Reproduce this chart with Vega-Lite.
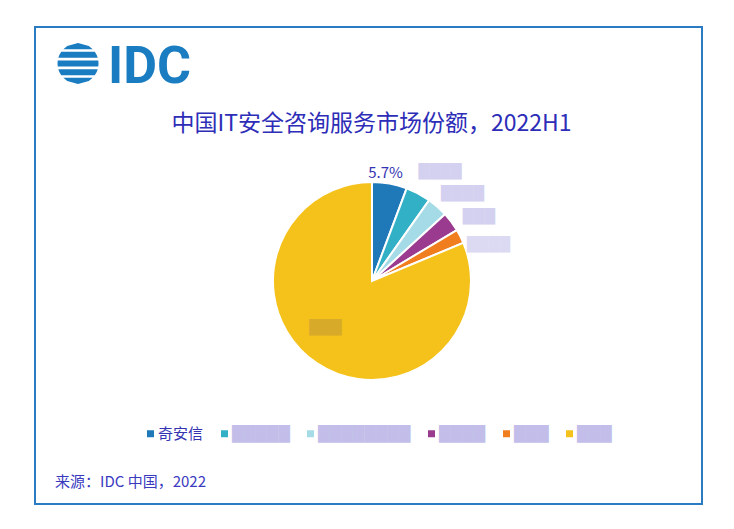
{
  "$schema": "https://vega.github.io/schema/vega-lite/v6.json",
  "width": 667,
  "height": 477,
  "autosize": {"type": "none"},
  "padding": {"left": 35, "top": 27, "right": 32, "bottom": 25},
  "background": "#ffffff",
  "config": {
    "view": {"stroke": "#2b7bc3", "strokeWidth": 2},
    "font": "Noto Sans CJK SC"
  },
  "data": {
    "values": [
      {"company": "奇安信", "share": 0.057, "rank": 1},
      {"company": "厂商二", "share": 0.041, "rank": 2},
      {"company": "厂商三", "share": 0.034, "rank": 3},
      {"company": "厂商四", "share": 0.032, "rank": 4},
      {"company": "厂商五", "share": 0.023, "rank": 5},
      {"company": "其他", "share": 0.813, "rank": 6}
    ]
  },
  "layer": [
    {
      "mark": {"type": "arc", "radius": 99, "stroke": "#ffffff", "strokeWidth": 2},
      "encoding": {
        "x": {"datum": 0.5052, "type": "quantitative", "scale": {"domain": [0, 1], "nice": false, "zero": false}, "axis": null},
        "y": {"datum": 0.5325, "type": "quantitative", "scale": {"domain": [0, 1], "nice": false, "zero": false, "reverse": true}, "axis": null},
        "theta": {"field": "share", "type": "quantitative", "stack": true},
        "order": {"field": "rank", "type": "quantitative"},
        "color": {
          "field": "company",
          "type": "nominal",
          "scale": {
            "domain": ["奇安信", "厂商二", "厂商三", "厂商四", "厂商五", "其他"],
            "range": ["#1f78b8", "#31b0c6", "#a5dbe6", "#9a3b8f", "#f07d1e", "#f4c21a"]
          },
          "legend": {
            "orient": "none",
            "direction": "horizontal",
            "legendX": 108,
            "legendY": 399,
            "title": null,
            "symbolType": "square",
            "symbolSize": 49,
            "symbolStrokeWidth": 0,
            "labelFont": {"expr": "datum.value == '奇安信' ? 'Noto Sans CJK SC' : 'DejaVu Sans'"},
            "labelColor": {"expr": "datum.value == '奇安信' ? '#3434b2' : '#c2bee9'"},
            "labelFontSize": 15,
            "labelOffset": 0,
            "columnPadding": 13,
            "labelLimit": 200,
            "labelExpr": "datum.value == '奇安信' ? '奇安信' : datum.value == '厂商二' ? '█████' : datum.value == '厂商三' ? '████████' : datum.value == '厂商四' ? '████' : '███'"
          }
        }
      }
    },
    {
      "mark": {"type": "text", "radius": 110, "dx": -6, "fontSize": 15, "align": "center", "baseline": "middle", "font": "Noto Sans CJK SC"},
      "encoding": {
        "x": {"datum": 0.5052, "type": "quantitative"},
        "y": {"datum": 0.5325, "type": "quantitative"},
        "theta": {"field": "share", "type": "quantitative", "stack": true},
        "order": {"field": "rank", "type": "quantitative"},
        "text": {"condition": {"test": "datum.rank == 1", "field": "share", "type": "quantitative", "format": ".1%"}, "value": ""},
        "color": {"value": "#3434b2"}
      }
    },
    {
      "mark": {"type": "text", "radius": 112, "dx": -6, "dy": -10, "fontSize": 14, "align": "left", "baseline": "middle", "font": "DejaVu Sans"},
      "encoding": {
        "x": {"datum": 0.5052, "type": "quantitative"},
        "y": {"datum": 0.5325, "type": "quantitative"},
        "theta": {"field": "share", "type": "quantitative", "stack": true},
        "order": {"field": "rank", "type": "quantitative"},
        "text": {"condition": {"test": "datum.rank == 2", "value": "████"}, "value": ""},
        "color": {"value": "#d4d1f0"}
      }
    },
    {
      "mark": {"type": "text", "radius": 112, "dx": -5, "dy": -3, "fontSize": 14, "align": "left", "baseline": "middle", "font": "DejaVu Sans"},
      "encoding": {
        "x": {"datum": 0.5052, "type": "quantitative"},
        "y": {"datum": 0.5325, "type": "quantitative"},
        "theta": {"field": "share", "type": "quantitative", "stack": true},
        "order": {"field": "rank", "type": "quantitative"},
        "text": {"condition": {"test": "datum.rank == 3", "value": "████"}, "value": ""},
        "color": {"value": "#d4d1f0"}
      }
    },
    {
      "mark": {"type": "text", "radius": 112, "dx": 1, "dy": 3, "fontSize": 14, "align": "left", "baseline": "middle", "font": "DejaVu Sans"},
      "encoding": {
        "x": {"datum": 0.5052, "type": "quantitative"},
        "y": {"datum": 0.5325, "type": "quantitative"},
        "theta": {"field": "share", "type": "quantitative", "stack": true},
        "order": {"field": "rank", "type": "quantitative"},
        "text": {"condition": {"test": "datum.rank == 4", "value": "███"}, "value": ""},
        "color": {"value": "#d4d1f0"}
      }
    },
    {
      "mark": {"type": "text", "radius": 112, "dx": -5, "dy": 15, "fontSize": 14, "align": "left", "baseline": "middle", "font": "DejaVu Sans"},
      "encoding": {
        "x": {"datum": 0.5052, "type": "quantitative"},
        "y": {"datum": 0.5325, "type": "quantitative"},
        "theta": {"field": "share", "type": "quantitative", "stack": true},
        "order": {"field": "rank", "type": "quantitative"},
        "text": {"condition": {"test": "datum.rank == 5", "value": "████"}, "value": ""},
        "color": {"value": "#dcdaf2"}
      }
    },
    {
      "mark": {"type": "text", "radius": 66, "dx": -10, "dy": -8, "fontSize": 14, "align": "center", "baseline": "middle", "font": "DejaVu Sans"},
      "encoding": {
        "x": {"datum": 0.5052, "type": "quantitative"},
        "y": {"datum": 0.5325, "type": "quantitative"},
        "theta": {"field": "share", "type": "quantitative", "stack": true},
        "order": {"field": "rank", "type": "quantitative"},
        "text": {"condition": {"test": "datum.rank == 6", "value": "███"}, "value": ""},
        "color": {"value": "#d8aa2a"}
      }
    },
    {
      "data": {"values": [{}]},
      "mark": {
        "type": "point",
        "filled": true,
        "opacity": 1,
        "size": 1681,
        "color": "#1a7cc1",
        "shape": "M -0.714 -0.7 L -0.527 -0.85 L 0 -1 L 0.527 -0.85 L 0.714 -0.7 Z M -0.818 -0.575 L 0.818 -0.575 L 0.905 -0.425 L 0.961 -0.275 L -0.961 -0.275 L -0.905 -0.425 Z M -0.989 -0.15 L 0.989 -0.15 L 1 0 L 0.989 0.15 L -0.989 0.15 L -1 0 Z M -0.961 0.275 L 0.961 0.275 L 0.905 0.425 L 0.818 0.575 L -0.818 0.575 L -0.905 0.425 Z M -0.714 0.7 L 0.714 0.7 L 0.527 0.85 L 0 1 L -0.527 0.85 Z"
      },
      "encoding": {
        "x": {"datum": 0.0645, "type": "quantitative"},
        "y": {"datum": 0.0765, "type": "quantitative"}
      }
    },
    {
      "data": {"values": [{}]},
      "mark": {"type": "text", "text": "IDC", "font": "Roboto", "fontWeight": "bold", "fontSize": 52, "color": "#1a7cc1", "align": "left", "baseline": "alphabetic"},
      "encoding": {
        "x": {"datum": 0.1094, "type": "quantitative"},
        "y": {"datum": 0.1174, "type": "quantitative"}
      }
    },
    {
      "data": {"values": [{}]},
      "mark": {"type": "text", "text": "中国IT安全咨询服务市场份额，2022H1", "font": "Noto Sans CJK SC", "fontSize": 23, "color": "#2d2db8", "align": "center", "baseline": "middle"},
      "encoding": {
        "x": {"datum": 0.5045, "type": "quantitative"},
        "y": {"datum": 0.2034, "type": "quantitative"}
      }
    },
    {
      "data": {"values": [{}]},
      "mark": {"type": "text", "text": "来源：IDC 中国，2022", "font": "Noto Sans CJK SC", "fontSize": 15, "color": "#3a3abf", "align": "left", "baseline": "middle"},
      "encoding": {
        "x": {"datum": 0.030, "type": "quantitative"},
        "y": {"datum": 0.954, "type": "quantitative"}
      }
    }
  ]
}
